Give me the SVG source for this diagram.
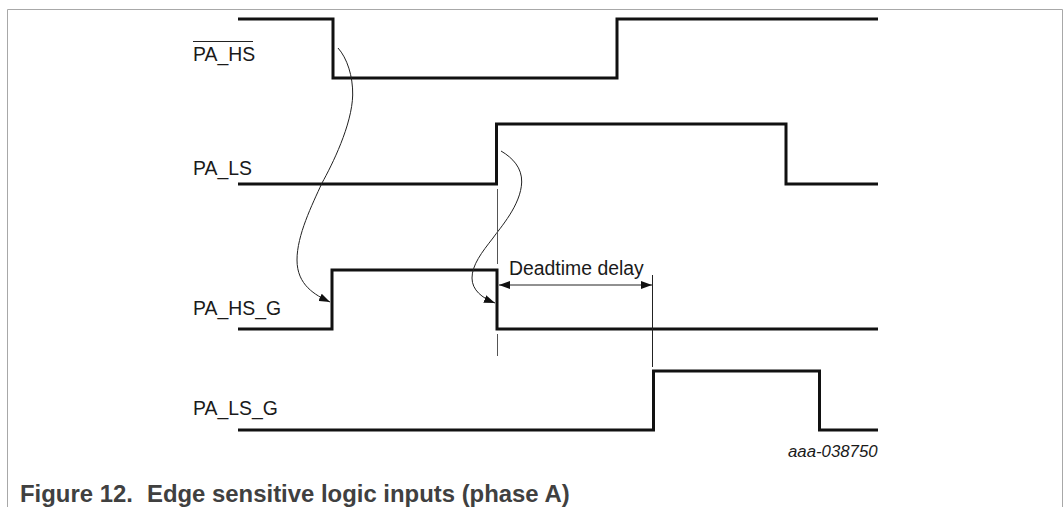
<svg xmlns="http://www.w3.org/2000/svg" width="1064" height="507" viewBox="0 0 1064 507">
<style>
text{font-family:"Liberation Sans",Arial,sans-serif;font-size:19.400px;fill:#1a1a1a}
.sig{fill:none;stroke:#111;stroke-width:3}
.thin{fill:none;stroke:#222;stroke-width:1}
.tick{fill:none;stroke:#555;stroke-width:1}
.frame{fill:none;stroke:#a8a8a8;stroke-width:1}
</style>
<defs>
<marker id="arrow" markerUnits="userSpaceOnUse" markerWidth="12" markerHeight="8" refX="11" refY="4" orient="auto"><path d="M0 0L11 4L0 8Z" fill="#111"/></marker>
<marker id="arrowS" markerUnits="userSpaceOnUse" markerWidth="12" markerHeight="8" refX="11" refY="4" orient="auto-start-reverse"><path d="M0 0L11 4L0 8Z" fill="#111"/></marker>
</defs>
<path class="frame" d="M7.500 507V9.500H1062.500V507"/>
<g id="PA_HS"><text x="193" y="61">PA_HS</text><path d="M193 41.500H253" stroke="#222" stroke-width="1"/><path class="sig" d="M238 19H333V78H617V19H878"/></g>
<g id="PA_LS"><text x="193" y="175">PA_LS</text><path class="sig" d="M238 184H496.500V124H786V184H878"/></g>
<g id="PA_HS_G"><text x="193" y="315">PA_HS_G</text><path class="sig" d="M238 329H332V270H497V329H878"/></g>
<g id="PA_LS_G"><text x="193" y="415">PA_LS_G</text><path class="sig" d="M238 430H653.500V371H819.500V430H878"/></g>
<g id="connectors">
<path class="thin" marker-end="url(#arrow)" d="M338 48C347 58 353 76 352.700 95C352 125 332 165 322 183C312 205 297 235 297 260C297 285 315 295 330 302"/>
<path class="thin" marker-end="url(#arrow)" d="M501 151C513 158 522 168 521.700 182C521 205 500 228 493 238C482 252 472 265 472 278C472 290 482 298 495 303"/>
<path class="tick" d="M497.500 189V264M497.500 334V356"/>
<path class="thin" d="M652.500 275V367"/>
<path class="thin" marker-start="url(#arrowS)" marker-end="url(#arrowS)" d="M499 285H652"/>
</g>
<g id="labels">
<text x="509" y="275">Deadtime delay</text>
<text x="788" y="457" font-style="italic" style="font-size:16.800px">aaa-038750</text>
<text x="20" y="502" font-weight="700" style="font-size:23.900px;fill:#404040">Figure 12.<tspan x="147">Edge sensitive logic inputs (phase A)</tspan></text>
</g>
</svg>
